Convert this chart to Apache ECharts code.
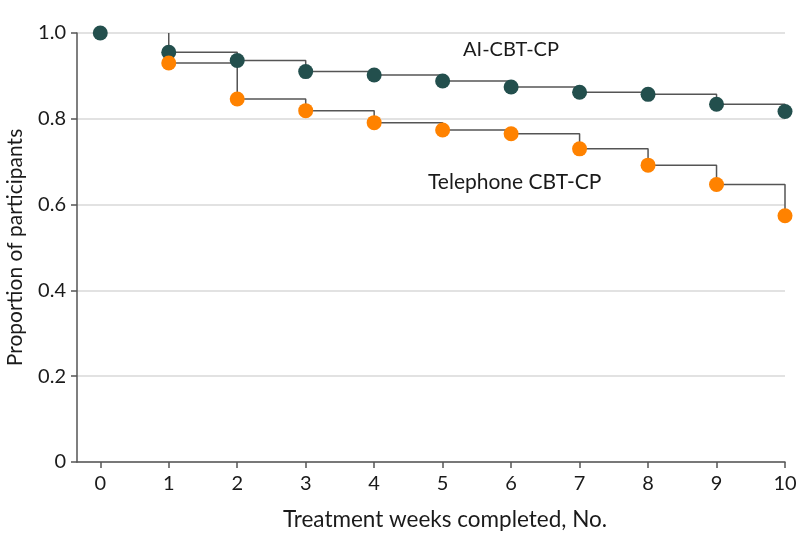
<!DOCTYPE html>
<html>
<head>
<meta charset="utf-8">
<script src="https://cdn.jsdelivr.net/npm/echarts@6/dist/echarts.min.js"></script>
<style>html,body{margin:0;padding:0;background:#fff}#c{width:798px;height:548px}</style>
</head>
<body>
<div id="c"></div>
<script>
var weeks = [0, 1, 2, 3, 4, 5, 6, 7, 8, 9, 10];
var aiValues = [1.0, 0.955, 0.936, 0.910, 0.902, 0.888, 0.874, 0.862, 0.857, 0.834, 0.817];
var phoneValues = [1.0, 0.930, 0.846, 0.819, 0.791, 0.774, 0.765, 0.730, 0.692, 0.647, 0.574];
var yTicks = [0, 0.2, 0.4, 0.6, 0.8, 1.0];
var seriesNames = ['AI-CBT-CP', 'Telephone CBT-CP'];

var FONT = 'Lato';
var chart = echarts.init(document.getElementById('c'), null, {renderer: 'canvas'});
function pairs(vals){ return weeks.map(function(w,i){ return [w, vals[i]]; }); }
// step path: starts at week 1 at the baseline value (the week-0 segment lies on the 1.0 gridline)
function stepPts(vals){ return [[weeks[1], vals[0]]].concat(pairs(vals).slice(1)); }
var phonePts = pairs(phoneValues).map(function(p,i){ return i===0 ? {value:p, symbol:'none'} : p; });

chart.setOption({
  animation: false,
  grid: {left: 77, right: 13, top: 33, bottom: 86, containLabel: false, outerBoundsMode: 'none'},
  xAxis: {
    type: 'value', min: -0.34, max: 10,
    name: 'Treatment weeks completed, No.', nameLocation: 'middle', nameGap: 46,
    nameTextStyle: {fontFamily: FONT, fontSize: 22.5, color: '#1a1a1a', padding: [0, 0, 0, 28]},
    axisLine: {show: true, onZero: false, lineStyle: {color: '#555', width: 1.5}},
    axisTick: {show: true, length: 6, lineStyle: {color: '#555', width: 1.5}, customValues: weeks},
    axisLabel: {customValues: weeks, fontFamily: FONT, fontSize: 20, color: '#1a1a1a', margin: 12},
    splitLine: {show: false}
  },
  yAxis: {
    type: 'value', min: 0, max: 1, interval: 0.2,
    name: 'Proportion of participants', nameLocation: 'middle', nameGap: 51,
    nameTextStyle: {fontFamily: FONT, fontSize: 21, color: '#1a1a1a'},
    axisLine: {show: true, onZero: false, lineStyle: {color: '#555', width: 1.5}},
    axisTick: {show: true, length: 6, lineStyle: {color: '#555', width: 1.5}},
    axisLabel: {fontFamily: FONT, fontSize: 20, color: '#1a1a1a', margin: 11,
      formatter: function(v){ return v === 0 ? '0' : v.toFixed(1); }},
    splitLine: {show: true, lineStyle: {color: '#d9d9d9', width: 1.5}}
  },
  graphic: [
    {type: 'text', left: 463, top: 40, style: {text: seriesNames[0], fontFamily: FONT, fontSize: 20, fill: '#1a1a1a'}},
    {type: 'text', left: 428, top: 172, style: {text: seriesNames[1], fontFamily: FONT, fontSize: 21, fill: '#1a1a1a'}}
  ],
  series: [
    {type: 'line', step: 'end', data: stepPts(aiValues), showSymbol: false, z: 2,
     lineStyle: {color: '#555', width: 1.5}},
    {type: 'line', step: 'end', data: pairs(phoneValues).slice(1), showSymbol: false, z: 2,
     lineStyle: {color: '#555', width: 1.5}},
    {type: 'scatter', name: seriesNames[0], data: pairs(aiValues), symbolSize: 15, z: 3,
     itemStyle: {color: '#234f4d', opacity: 1}},
    {type: 'scatter', name: seriesNames[1], data: phonePts, symbolSize: 15, z: 4,
     itemStyle: {color: '#ff8200', opacity: 1}}
  ]
});
</script>
</body>
</html>
